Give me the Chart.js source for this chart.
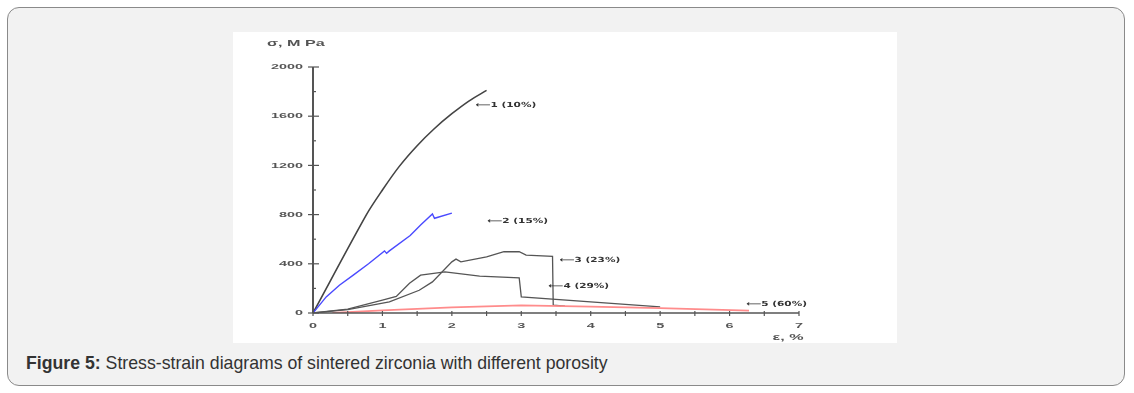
<!DOCTYPE html>
<html>
<head>
<meta charset="utf-8">
<script src="https://cdn.jsdelivr.net/npm/chart.js@4"></script>
<style>
body{margin:0;background:#fff;font-family:"Liberation Sans",Arial,sans-serif;}
.box{position:absolute;left:7px;top:7px;width:1116px;height:377px;border:1px solid #8a8a8a;border-radius:12px;background:#f2f2f2;}
.fig{position:absolute;left:233px;top:32px;width:664px;height:311px;background:#fff;}
.cap{position:absolute;left:26px;top:353px;font-size:17.7px;color:#333;}
</style>
</head>
<body>
<div class="box"></div>
<div class="fig"><canvas id="chart" width="664" height="311"></canvas></div>
<div class="cap"><b>Figure 5:</b> Stress-strain diagrams of sintered zirconia with different porosity</div>
<script>
// strain (%) and stress (MPa)
var strain1 = [0, 0.77, 1.0, 1.24, 1.5, 1.75, 2.0, 2.25, 2.5]
var stress1 = [0, 800, 1000, 1190, 1360, 1500, 1620, 1725, 1810]

var strain2 = [0, 0.19, 0.38, 0.58, 0.8, 1.03, 1.06, 1.1, 1.4, 1.55, 1.72, 1.75, 2.0]
var stress2 = [0, 131, 226, 308, 400, 505, 485, 505, 630, 716, 805, 770, 812]

var strain3 = [0, 0.5, 1.1, 1.53, 1.72, 2.0, 2.06, 2.13, 2.5, 2.75, 2.97, 3.07, 3.45, 3.46, 3.63]
var stress3 = [0, 28, 90, 185, 253, 416, 438, 416, 457, 498, 498, 471, 460, 63, 55]

var strain4 = [0, 0.5, 1.0, 1.2, 1.39, 1.55, 1.9, 2.4, 2.97, 3.0, 5.0]
var stress4 = [0, 32, 105, 135, 242, 308, 335, 300, 286, 131, 50]

var strain5 = [0.28, 1, 2, 3, 4, 5, 6.28]
var stress5 = [0, 22, 45, 62, 52, 40, 20]

var xTicks = [0, 1, 2, 3, 4, 5, 6, 7]
var yTicks = [0, 400, 800, 1200, 1600, 2000]

var labelText = ['\u27f51 (10%)', '\u27f52 (15%)', '\u27f53 (23%)', '\u27f54 (29%)', '\u27f55 (60%)']
var labelX = [2.34, 2.51, 3.55, 3.39, 6.24]
var labelY = [1687, 749, 430, 218, 71]

function points(xs, ys){
    var pts = []
    for (var i = 0; i < xs.length; i++) {
        pts.push({x: xs[i], y: ys[i]})
    }
    return pts
}

function wideText(ctx, text, x, y, sx){
    ctx.save()
    ctx.translate(x, y)
    ctx.scale(sx, 1)
    ctx.fillText(text, 0, 0)
    ctx.restore()
}

var axesPlugin = {
    id: 'axesPlugin',
    afterDraw: function(chart){
        var ctx = chart.ctx
        var xs = chart.scales.x, ys = chart.scales.y
        var a = chart.chartArea
        ctx.save()
        ctx.strokeStyle = '#555'
        ctx.lineWidth = 2
        ctx.beginPath()
        ctx.moveTo(a.left, a.top)
        ctx.lineTo(a.left, a.bottom)
        ctx.stroke()
        ctx.lineWidth = 1.5
        ctx.beginPath()
        ctx.moveTo(a.left, a.bottom)
        ctx.lineTo(a.right, a.bottom)
        ctx.stroke()
        // y ticks
        ctx.lineWidth = 1.2
        for (var v = 0; v <= 2000; v += 200) {
            var py = ys.getPixelForValue(v)
            ctx.beginPath()
            if (v % 400 == 0) { ctx.moveTo(a.left - 5, py); ctx.lineTo(a.left + 6, py) }
            else { ctx.moveTo(a.left, py); ctx.lineTo(a.left + 3, py) }
            ctx.stroke()
        }
        // x ticks
        for (var t = 0; t <= 7; t += 0.5) {
            var px = xs.getPixelForValue(t)
            ctx.beginPath()
            ctx.moveTo(px, a.bottom - 2)
            ctx.lineTo(px, a.bottom + 3)
            ctx.stroke()
        }
        ctx.fillStyle = '#555'
        ctx.font = 'bold 8px "Liberation Sans", Arial'
        ctx.textBaseline = 'middle'
        ctx.textAlign = 'left'
        for (var i = 0; i < yTicks.length; i++) {
            var s = String(yTicks[i])
            var w = ctx.measureText(s).width * 1.8
            wideText(ctx, s, a.left - 10 - w, ys.getPixelForValue(yTicks[i]), 1.8)
        }
        for (var j = 0; j < xTicks.length; j++) {
            var s2 = String(xTicks[j])
            var w2 = ctx.measureText(s2).width * 1.8
            wideText(ctx, s2, xs.getPixelForValue(xTicks[j]) - w2 / 2, a.bottom + 13, 1.8)
        }
        // axis titles
        ctx.font = 'bold 8.5px "Liberation Sans", Arial'
        wideText(ctx, '\u03c3, M Pa', a.left - 46, a.top - 23, 1.9)
        wideText(ctx, '\u03b5, %', xs.getPixelForValue(6.62), a.bottom + 25, 1.9)
        // curve labels
        ctx.fillStyle = '#333'
        ctx.font = 'bold 7px "DejaVu Sans"'
        for (var k = 0; k < labelText.length; k++) {
            wideText(ctx, labelText[k], xs.getPixelForValue(labelX[k]), ys.getPixelForValue(labelY[k]), 1.5)
        }
        ctx.restore()
    }
}

var ctx = document.getElementById('chart')
var myChart = new Chart(ctx, {
    type: 'scatter',
    data: {
        datasets: [
            {data: points(strain5, stress5), borderColor: '#ff8c8c', borderWidth: 1.8, showLine: true, pointRadius: 0},
            {data: points(strain4, stress4), borderColor: '#555', borderWidth: 1.3, showLine: true, pointRadius: 0},
            {data: points(strain3, stress3), borderColor: '#555', borderWidth: 1.3, showLine: true, pointRadius: 0},
            {data: points(strain2, stress2), borderColor: '#4a4aff', borderWidth: 1.4, showLine: true, pointRadius: 0},
            {data: points(strain1, stress1), borderColor: '#444', borderWidth: 1.6, showLine: true, pointRadius: 0, tension: 0.3}
        ]
    },
    options: {
        responsive: false,
        animation: false,
        layout: {padding: {top: 35, right: 98, left: 0, bottom: 0}},
        plugins: {legend: {display: false}, tooltip: {enabled: false}},
        scales: {
            x: {type: 'linear', min: 0, max: 7, grid: {display: false}, border: {display: false}, ticks: {display: false},
                afterFit: function(s){ s.height = 30 }},
            y: {min: 0, max: 2000, grid: {display: false}, border: {display: false}, ticks: {display: false},
                afterFit: function(s){ s.width = 80 }}
        }
    },
    plugins: [axesPlugin]
});
</script>
</body>
</html>
